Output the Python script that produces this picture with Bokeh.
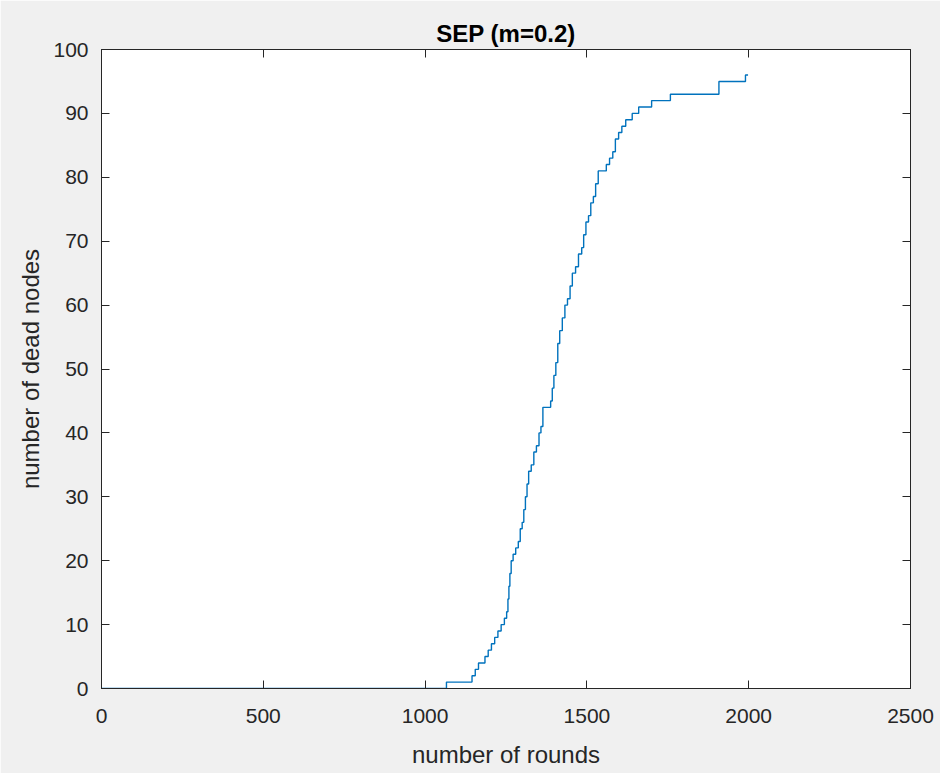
from bokeh.plotting import figure
from bokeh.models import LinearAxis, FixedTicker, Range1d
from bokeh.embed import file_html
from bokeh.resources import INLINE

# change points of the step curve: round at which the count of dead nodes becomes `dead`
rounds = [0, 1066, 1145, 1155, 1165, 1185, 1195, 1205, 1215, 1225, 1235, 1245, 1252, 1256,
          1259, 1262, 1266, 1272, 1280, 1288, 1294, 1300, 1305, 1310, 1315, 1320, 1328, 1336,
          1344, 1352, 1358, 1364, 1388, 1393, 1398, 1404, 1410, 1416, 1424, 1432, 1440, 1448,
          1455, 1465, 1474, 1484, 1490, 1497, 1505, 1512, 1520, 1527, 1535, 1560, 1570, 1580,
          1588, 1598, 1608, 1620, 1640, 1660, 1700, 1758, 1908, 1990, 1998]
dead = [0, 1, 2, 3, 4, 5, 6, 7, 8, 9, 10, 11, 12, 14,
        16, 18, 20, 21, 22, 23, 25, 26, 28, 30, 32, 34, 35, 37,
        38, 40, 41, 44, 45, 47, 49, 51, 54, 56, 58, 60, 61, 63,
        65, 66, 68, 69, 71, 73, 74, 76, 77, 79, 81, 82, 83, 84,
        86, 87, 88, 89, 90, 91, 92, 93, 95, 96, 96]

x_ticks = [0, 500, 1000, 1500, 2000, 2500]
y_ticks = [0, 10, 20, 30, 40, 50, 60, 70, 80, 90, 100]

title_text = "SEP (m=0.2)"
x_label = "number of rounds"
y_label = "number of dead nodes"

FONT = "Liberation Sans"
AX = "#262626"

p = figure(width=940, height=778, x_range=Range1d(0, 2500), y_range=Range1d(0, 100),
           output_backend="svg", toolbar_location=None,
           min_border_left=101, min_border_right=30, min_border_top=49, min_border_bottom=90,
           background_fill_color="white", border_fill_color="#f0f0f0")
p.outline_line_color = AX
p.outline_line_width = 1
p.xgrid.visible = False
p.ygrid.visible = False

p.step(x=rounds, y=dead, mode="after", line_color="#0072BD", line_width=1.4)

def style(ax, ticks, show_labels=True):
    ax.ticker = FixedTicker(ticks=ticks)
    ax.major_tick_in = 8
    ax.major_tick_out = 0
    ax.minor_tick_line_color = None
    ax.major_tick_line_color = AX
    ax.axis_line_color = AX
    ax.major_label_text_font = FONT
    ax.major_label_text_font_size = "21px"
    ax.major_label_text_color = AX
    ax.axis_label_text_font = FONT
    ax.axis_label_text_font_style = "normal"
    ax.axis_label_text_font_size = "24px"
    ax.axis_label_text_color = AX
    if not show_labels:
        ax.major_label_text_font_size = "0px"
        ax.major_label_text_color = None

xb = p.xaxis[0]
style(xb, x_ticks)
xb.axis_label = x_label
xb.major_label_standoff = 20
xb.axis_label_standoff = 15

yl = p.yaxis[0]
style(yl, y_ticks)
yl.axis_label = y_label
yl.major_label_standoff = 13
yl.axis_label_standoff = 6

top = LinearAxis()
style(top, x_ticks, show_labels=False)
top.axis_label = title_text
top.axis_label_text_font_style = "bold"
top.axis_label_text_font_size = "24px"
top.axis_label_text_color = "black"
top.axis_label_standoff = 3
top.major_label_standoff = 0
p.add_layout(top, "above")

right = LinearAxis()
style(right, y_ticks, show_labels=False)
right.major_label_standoff = 0
p.add_layout(right, "right")

open("out.html", "w").write(file_html(p, INLINE))
